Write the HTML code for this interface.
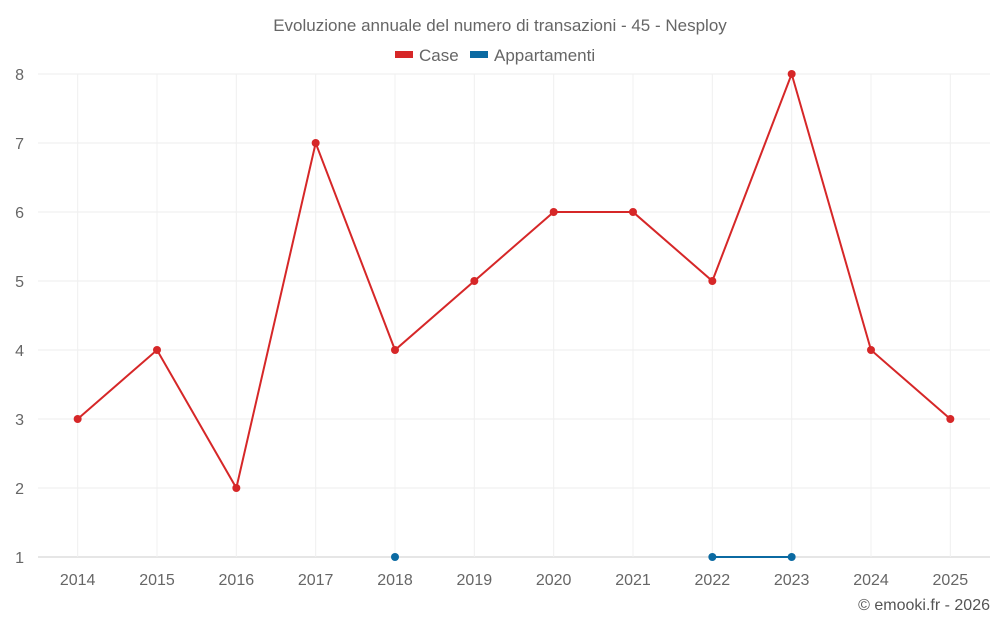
<!DOCTYPE html>
<html><head><meta charset="utf-8">
<style>
html,body{margin:0;padding:0;background:#fff;}
svg{display:block;font-family:"Liberation Sans",sans-serif;}
</style></head>
<body>
<svg id="chart" width="1000" height="625" viewBox="0 0 1000 625">
<text x="500" y="31" text-anchor="middle" font-size="17" fill="#666">Evoluzione annuale del numero di transazioni - 45 - Nesploy</text>
<g>
 <g><rect x="395" y="51" width="18" height="7" fill="#d62728"/><text x="419" y="61" font-size="17" fill="#666">Case</text></g>
 <g><rect x="470" y="51" width="18" height="7" fill="#0b6aa2"/><text x="494" y="61" font-size="17" fill="#666">Appartamenti</text></g>
</g>
<g id="grid"></g>
<g id="axes"></g>
<g id="series"></g>
<text x="990" y="610" text-anchor="end" font-size="16" fill="#555">© emooki.fr - 2026</text>
</svg>
<script>
const categories=["2014","2015","2016","2017","2018","2019","2020","2021","2022","2023","2024","2025"];
const caseValues=[3,4,2,7,4,5,6,6,5,8,4,3];
const appValues=[null,null,null,null,1,null,null,null,1,1,null,null];
const yTicks=[1,2,3,4,5,6,7,8];
const NS="http://www.w3.org/2000/svg";
const L=38,R=990,T=74,B=557,yMin=1,yMax=8;
const bw=(R-L)/categories.length;
function xs(i){return L+bw*(i+0.5);}
function ys(v){return B-(v-yMin)/(yMax-yMin)*(B-T);}
function mk(tag,attrs,parent){const e=document.createElementNS(NS,tag);for(const k in attrs)e.setAttribute(k,attrs[k]);parent.appendChild(e);return e;}
const grid=document.getElementById('grid'),axes=document.getElementById('axes'),series=document.getElementById('series');
yTicks.forEach(v=>{
 const g=mk('line',{x1:L,x2:R,y1:ys(v),y2:ys(v),stroke:v===yMin?'#ccc':'#ececec','stroke-width':1},grid);
 
 
 const t=mk('text',{x:L-14,y:ys(v)+6,'text-anchor':'end','font-size':16,fill:'#666'},axes);
 t.textContent=v;
 
 
});
categories.forEach((c,i)=>{
 const g=mk('line',{x1:xs(i),x2:xs(i),y1:T,y2:B,stroke:'#f0f0f0','stroke-width':1},grid);
 
 
 const t=mk('text',{x:xs(i),y:585,'text-anchor':'middle','font-size':16,fill:'#666'},axes);
 t.textContent=c;
 
 
});
function drawSeries(vals,color,name){
 let seg=[];
 const segs=[];
 vals.forEach((v,i)=>{if(v==null){if(seg.length)segs.push(seg);seg=[];}else seg.push([xs(i),ys(v)]);});
 if(seg.length)segs.push(seg);
 segs.forEach(s=>{if(s.length>1){
  const p=mk('polyline',{points:s.map(q=>q.join(',')).join(' '),fill:'none',stroke:color,'stroke-width':2},series);
  
  
 }});
 vals.forEach((v,i)=>{if(v==null)return;
  const c=mk('circle',{cx:xs(i),cy:ys(v),r:4,fill:color},series);
  
  
 });
}
drawSeries(caseValues,'#d62728','case');
drawSeries(appValues,'#0b6aa2','appartamenti');
</script>
</body></html>
